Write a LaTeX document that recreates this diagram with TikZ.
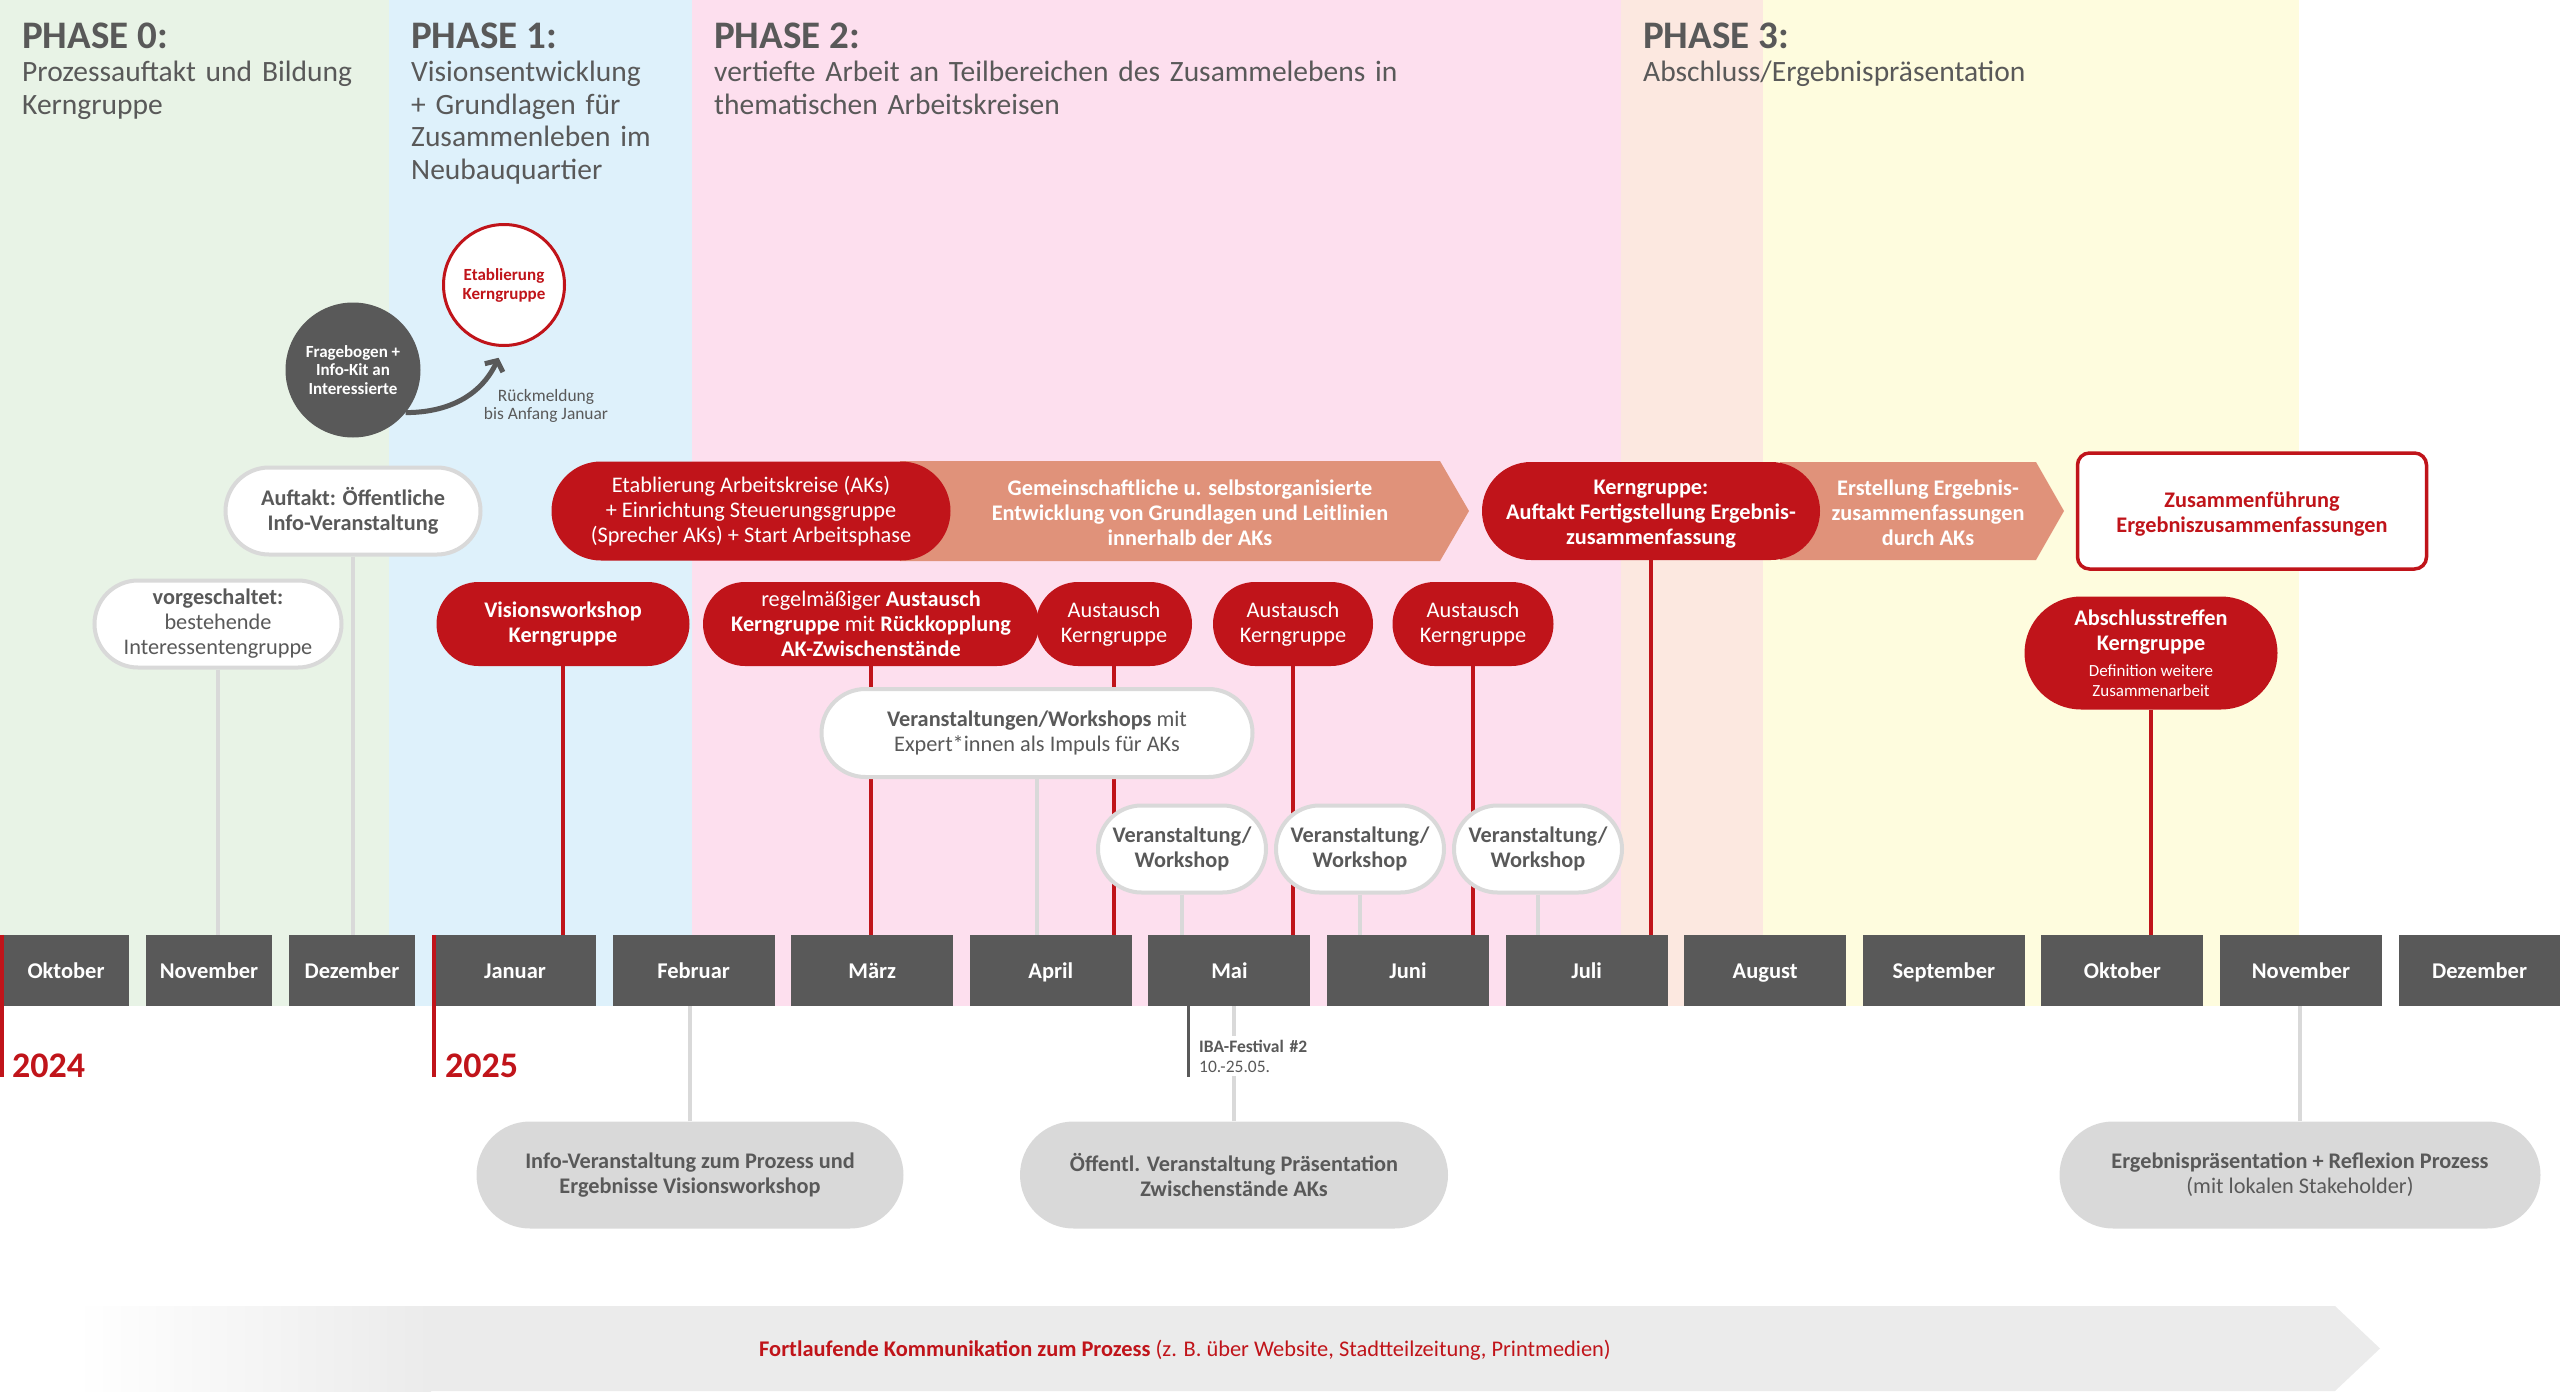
\documentclass[tikz,border=0pt]{standalone}
\usepackage{fontspec}
\setmainfont{Carlito}
\usetikzlibrary{arrows.meta,positioning}
\definecolor{kred}{RGB}{192,20,26}
\definecolor{mgrey}{RGB}{89,89,89}
\definecolor{lgrey}{RGB}{217,217,217}
\definecolor{salmon}{RGB}{224,146,122}
\definecolor{kgrey}{RGB}{235,235,235}
\definecolor{ph0}{RGB}{232,243,230}
\definecolor{ph1}{RGB}{222,241,251}
\definecolor{ph2}{RGB}{253,223,238}
\definecolor{ph3a}{RGB}{252,232,224}
\definecolor{ph3b}{RGB}{254,252,222}
\pgfdeclarelayer{bg}
\pgfdeclarelayer{lines}
\pgfsetlayers{bg,lines,main}
\newcommand\setfs[2]{\fontsize{#1}{#2}\selectfont}

\begin{document}
\begin{tikzpicture}[x=1pt,y=-1pt,
  evt/.style={rectangle,inner sep=0pt,align=center,font={\setfs{22.3}{25}}},
  pill/.style 2 args={minimum width=#1,minimum height=#2,rounded corners=#2/2},
  heavy/.style={font={\bfseries\setfs{22.3}{25}}},
  wevt/.style={evt,fill=white,draw=lgrey,line width=4pt,text=mgrey},
  revt/.style={evt,fill=kred,text=white},
  gevt/.style={evt,fill=lgrey,text=mgrey},
  month/.style={fill=mgrey,text=white,inner sep=0pt,minimum height=71pt,text height=15pt,text depth=0pt,font={\bfseries\setfs{22.5}{26}}},
  rline/.style={kred,line width=4pt},
  gline/.style={lgrey,line width=4pt},
  phead/.style={anchor=base west,inner sep=0pt,text=mgrey,font={\bfseries\setfs{39}{42}}},
  psub/.style={anchor=base west,inner sep=0pt,text=mgrey,align=left,font={\setfs{29.5}{32.5}}}]
\useasboundingbox (0,0) rectangle (2560,1394);

\begin{pgfonlayer}{bg}
\fill[ph0] (0,0) rectangle (389,1006);
\fill[ph1] (389,0) rectangle (692,1006);
\fill[ph2] (692,0) rectangle (1621,1006);
\fill[ph3a] (1621,0) rectangle (1763,1006);
\fill[ph3b] (1763,0) rectangle (2299,1006);
\end{pgfonlayer}

\node[phead] (p0) at (22,49) {PHASE 0:};
\node[psub,text width=370pt] (p0t) at (22,82) {Prozessauftakt und Bildung\\Kerngruppe};
\node[phead] (p1) at (411,49) {PHASE 1:};
\node[psub,text width=280pt] (p1t) at (411,82) {Visionsentwicklung\\+ Grundlagen für\\Zusammenleben im\\Neubauquartier};
\node[phead] (p2) at (714,49) {PHASE 2:};
\node[psub,text width=740pt] (p2t) at (714,82) {vertiefte Arbeit an Teilbereichen des Zusammelebens in\\thematischen Arbeitskreisen};
\node[phead] (p3) at (1643,49) {PHASE 3:};
\node[psub,text width=440pt] (p3t) at (1643,82) {Abschluss/Ergebnispräsentation};

\node[circle,fill=mgrey,minimum size=135pt,inner sep=0pt,align=center,text=white,font={\bfseries\setfs{17}{18.5}}] (frage) at (353,370) {Fragebogen +\\Info-Kit an\\Interessierte};
\node[circle,fill=white,draw=kred,line width=3pt,minimum size=121pt,inner sep=0pt,align=center,text=kred,font={\bfseries\setfs{17}{19}}] (etabkern) at (504,285) {Etablierung\\Kerngruppe};
\node[align=center,text=mgrey,inner sep=0pt,font={\setfs{17.4}{18}}] (rueck) at (546,406) {Rückmeldung\\bis Anfang Januar};
\draw[mgrey,line width=5pt,-{Straight Barb[length=8pt,width=20pt]}] (frage.-39) to[out=0,in=-115] ([yshift=-11pt]etabkern.-95);

\node[wevt,heavy,pill={255}{87}] (auftakt) at (353,511) {Auftakt: Öffentliche\\Info-Veranstaltung};
\node[wevt,pill={247}{87}] (vorg) at (218,624) {\textbf{vorgeschaltet:}\\bestehende\\Interessentengruppe};

\fill[salmon] (900,461) -- (1440,461) -- (1469,511) -- (1440,561) -- (900,561) -- cycle;
\node[revt,pill={399}{99}] (etabak) at (751,511) {Etablierung Arbeitskreise (AKs)\\+ Einrichtung Steuerungsgruppe\\(Sprecher AKs) + Start Arbeitsphase};
\node[heavy,align=center,text=white,inner sep=0pt] (gemein) at (1190,513) {Gemeinschaftliche u. selbstorganisierte\\Entwicklung von Grundlagen und Leitlinien\\innerhalb der AKs};
\fill[salmon] (1780,462) -- (2036,462) -- (2064,511) -- (2036,560) -- (1780,560) -- cycle;
\node[revt,heavy,pill={338}{98}] (kern) at (1651,511) {\rule{0pt}{20pt}Kerngruppe:\\Auftakt Fertigstellung Ergebnis-\\zusammenfassung};
\node[heavy,align=center,text=white,inner sep=0pt] (erstell) at (1928,513) {Erstellung Ergebnis-\\zusammenfassungen\\durch AKs};
\node[evt,heavy,draw=kred,line width=3.5pt,fill=white,rounded corners=12pt,minimum width=349pt,minimum height=116pt,text=kred] (zusf) at (2252,511) {\rule{0pt}{22pt}Zusammenführung\\Ergebniszusammenfassungen};

\node[revt,heavy,pill={253}{84}] (visions) at (563,624) {Visionsworkshop\\Kerngruppe};
\node[revt,pill={336}{84}] (regel) at (871,624) {regelmäßiger \textbf{Austausch}\\\textbf{Kerngruppe} mit \textbf{Rückkopplung}\\\textbf{AK-Zwischenstände}};
\foreach \n/\x/\w in {aus1/1114/156,aus2/1293/160,aus3/1473/161}
  \node[revt,pill={\w}{84}] (\n) at (\x,624) {Austausch\\Kerngruppe};
\node[revt,heavy,pill={253}{113}] (absch) at (2151,653) {Abschlusstreffen\\Kerngruppe\\[1pt]{\mdseries\setfs{17}{20}Definition weitere}\\[-5pt]{\mdseries\setfs{17}{20}Zusammenarbeit}};

\node[wevt,pill={431}{88}] (veran) at (1037,733) {\textbf{Veranstaltungen/Workshops} mit\\Expert*innen als Impuls für AKs};
\foreach \n/\x in {vw1/1182,vw2/1360,vw3/1538}
  \node[wevt,heavy,pill={168}{87}] (\n) at (\x,849) {Veranstaltung/\\Workshop};

\foreach \m/\n/\x in {Oktober/okt/66,November/nov/209,Dezember/dez/352}
  \node[month,minimum width=126pt] (\n) at (\x,970.5) {\m};
\foreach \m/\n [count=\i from 0] in {Januar/jan,Februar/feb,März/mar,April/apr,Mai/mai,Juni/jun,Juli/jul,August/aug,September/sep,Oktober/okt2,November/nov2,Dezember/dez2}
  \node[month,minimum width=162pt] (\n) at (515+178.6*\i,970.5) {\m};

\coordinate (y24) at (2,1077);
\coordinate (y25) at (434,1077);
\draw[kred,line width=4pt] (y24 |- okt.north) -- (y24);
\draw[kred,line width=4pt] (y25 |- jan.north) -- (y25);
\node[anchor=base west,inner sep=0pt,text=kred,font={\bfseries\setfs{36}{40}}] (l24) at (12,1077) {2024};
\node[anchor=base west,inner sep=0pt,text=kred,font={\bfseries\setfs{36}{40}}] (l25) at (445,1077) {2025};

\node[gevt,heavy,pill={427}{107}] (info) at (690,1175) {Info-Veranstaltung zum Prozess und\\Ergebnisse Visionsworkshop};
\node[gevt,heavy,pill={428}{107}] (oeff) at (1234,1175) {Öffentl. Veranstaltung Präsentation\\Zwischenstände AKs};
\node[gevt,pill={481}{107}] (ergeb) at (2300,1175) {\textbf{Ergebnispräsentation + Reflexion Prozess}\\(mit lokalen Stakeholder)};

\coordinate (ibaend) at (1188,1077);
\draw[mgrey,line width=3pt] (ibaend |- mai.south) -- (ibaend);
\node[anchor=base west,text width=125pt,fill=white,inner xsep=2pt,inner ysep=4pt,text=mgrey,font={\setfs{17.5}{20}}] (iba) at (1197,1052) {\textbf{IBA-Festival \#2}\\10.-25.05.};

\begin{pgfonlayer}{lines}
\foreach \a/\b in {vorg/nov,auftakt/dez,veran/apr,vw1/mai,vw2/jun,vw3/jul}
  \draw[gline] (\a.south) -- (\a.south |- \b.north);
\foreach \a/\b in {visions/jan,regel/mar,aus1/apr,aus2/mai,aus3/jun,kern/jul,absch/okt2}
  \draw[rline] (\a.south) -- (\a.south |- \b.north);
\foreach \a/\b in {info/feb,oeff/mai,ergeb/nov2}
  \draw[gline] (\a.north) -- (\a.north |- \b.south);
\end{pgfonlayer}

\shade[left color=white,right color=kgrey] (76,1306) rectangle (431,1391);
\fill[kgrey] (430,1306) -- (2335,1306) -- (2380,1348.5) -- (2335,1391) -- (430,1391) -- cycle;
\node[text=kred,inner sep=0pt,font={\setfs{22.4}{26}}] (komm) at (1185,1350) {\textbf{Fortlaufende Kommunikation zum Prozess} (z. B. über Website, Stadtteilzeitung, Printmedien)};
\end{tikzpicture}
\end{document}
